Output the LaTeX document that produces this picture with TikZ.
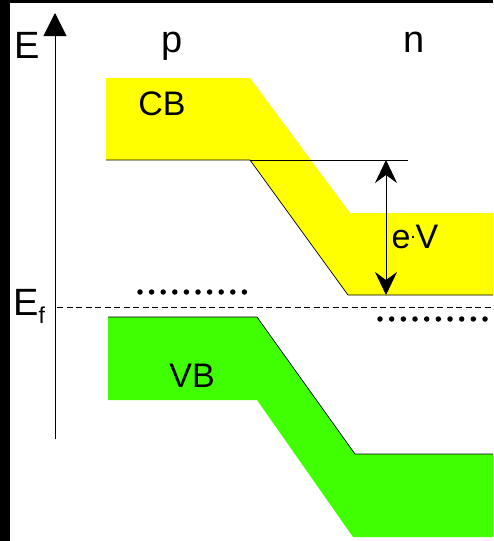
\documentclass[tikz,border=0pt]{standalone}
\usepackage{fontspec}
\setmainfont{Liberation Sans}
\usetikzlibrary{arrows.meta}
\definecolor{cbyellow}{RGB}{255,255,0}
\definecolor{vbgreen}{RGB}{64,255,0}
\begin{document}
\begin{tikzpicture}[x=1pt,y=-1pt]
\tikzstyle{big}=[inner sep=0pt,anchor=base,font=\fontsize{38}{38}\selectfont]
\tikzstyle{bandlbl}=[inner sep=0pt,anchor=base,font=\fontsize{34}{34}\selectfont]
\tikzstyle{bandedge}=[line width=0.7pt,line join=miter]
\tikzstyle{fdot}=[circle,fill=black,inner sep=0pt,minimum size=5.5pt]
\useasboundingbox (0,0) rectangle (493,541);
\fill[white] (0,0) rectangle (493,541);
\fill[black] (0,0) rectangle (10,541);
\fill[black] (0,0) rectangle (493,3);
% bands
\fill[cbyellow] (106,78) -- (250,78) -- (350,213) -- (493,213) -- (493,295)
  -- (348,295) -- (250,160) -- (106,160) -- cycle;
\fill[vbgreen] (108,317) -- (257,317) -- (355,454) -- (493,454) -- (493,537)
  -- (353,537) -- (257,400) -- (108,400) -- cycle;
\draw[bandedge] (106,160) -- (250,160) -- (348,295) -- (493,295);
\draw[bandedge] (108,317) -- (257,317) -- (355,454) -- (493,454);
\draw[line width=0.7pt] (250,160) -- (408,160);
% Fermi level
\draw[line width=0.8pt,dash pattern=on 6pt off 3.5pt] (57,307) -- (493,307);
\foreach \i in {0,...,9} {
  \node [fdot] (pd\i) at (140+11.6*\i,292) {};
  \node [fdot] (nd\i) at (380+11.67*\i,319) {};
}
% axis
\coordinate (axbot) at (55,439);
\coordinate (axtop) at (55,13);
\draw[line width=0.9pt,-{Triangle[width=23pt,length=23pt]}] (axbot) -- (axtop);
\coordinate (evtop) at (386,160);
\coordinate (evbot) at (386,295);
\draw[line width=0.9pt,{Stealth[width=22pt,length=23pt,inset=8pt]}-{Stealth[width=22pt,length=23pt,inset=8pt]}] (evtop) -- (evbot);
% labels
\node [big] (E) at (27.5,58) {E};
\node [big] (p) at (172,52) {p};
\node [big] (n) at (414,52) {n};
\node [bandlbl] (CB) at (162,115) {CB};
\node [bandlbl] (VB) at (192,387) {VB};
\node [bandlbl] (eV) at (415,248) {e\kern1.5pt\rule[10pt]{2pt}{2pt}\kern1.5pt V};
\node [big,anchor=base west] (Ef) at (13,315) {E\raisebox{-8pt}{\fontsize{23}{23}\selectfont f}};
\end{tikzpicture}
\end{document}
